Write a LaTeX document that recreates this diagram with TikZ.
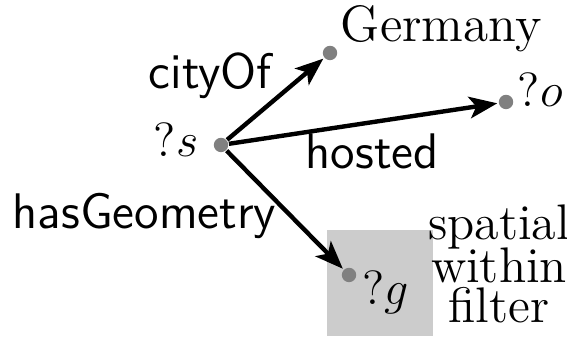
\documentclass[tikz,border=0pt]{standalone}
\usetikzlibrary{arrows.meta}
\begin{document}
\begin{tikzpicture}[x=0.25pt,y=-0.25pt,
  dot/.style={circle,fill=black!50,inner sep=0pt,minimum size=3.6pt},
  edge/.style={line width=1.1pt,-{Stealth[length=7pt,width=5.4pt,inset=1.7pt]},shorten >=0.2pt},
  serif/.style={font=\fontsize{12.8}{15}\selectfont,inner sep=0pt},
  filt/.style={font=\fontsize{12.5}{15}\selectfont,inner sep=0pt},
  sans/.style={font=\sffamily\fontsize{12.5}{15}\selectfont,inner sep=0pt}]
\useasboundingbox (0,0) rectangle (567,341);
\fill[black!20] (327,230) rectangle (433,336);
\node[dot] (s) at (221,145) {};
\node[dot] (ger) at (330,53) {};
\node[dot] (o) at (506,102) {};
\node[dot] (g) at (349,275) {};
\draw[edge] (s) -- (ger);
\draw[edge] (s) -- (o);
\draw[edge] (s) -- (g);
\node[serif,anchor=base west] (tger) at (340,42) {Germany};
\node[serif,anchor=base east] (ts) at (199,157) {$?s$};
\node[serif,anchor=base west] (to) at (517,107) {$?o$};
\node[serif,anchor=base west] (tg) at (362,305) {$?g$};
\node[sans,anchor=base west] (lc) at (148,89) {cityOf};
\node[sans,anchor=base west] (lh) at (305,169) {hosted};
\node[sans,anchor=base west] (lg) at (12,229) {hasGeometry};
\node[filt,anchor=base] (f1) at (499,240) {spatial};
\node[filt,anchor=base] (f2) at (499,283) {within};
\node[filt,anchor=base] (f3) at (499,323) {filter};
\end{tikzpicture}
\end{document}
